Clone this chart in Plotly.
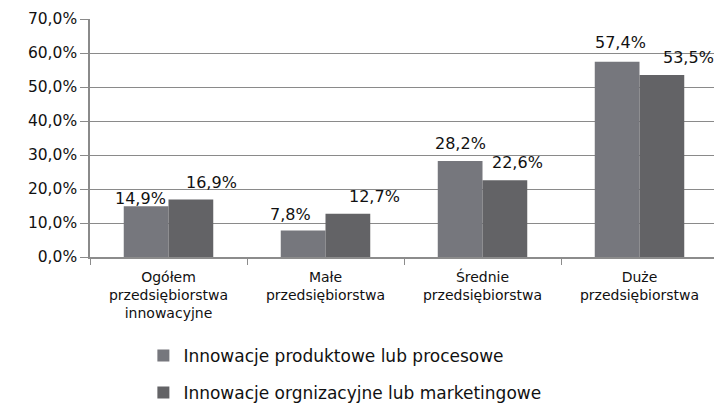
import plotly.graph_objects as go

categories = ["Ogółem<br>przedsiębiorstwa<br>innowacyjne", "Małe<br>przedsiębiorstwa",
              "Średnie<br>przedsiębiorstwa", "Duże<br>przedsiębiorstwa"]
series_names = ["Innowacje produktowe lub procesowe", "Innowacje orgnizacyjne lub marketingowe"]
produktowe = [14.9, 7.8, 28.2, 57.4]
organizacyjne = [16.9, 12.7, 22.6, 53.5]
y_ticks = [0, 10, 20, 30, 40, 50, 60, 70]

colors = ["#76777d", "#636366"]
font = "DejaVu Sans"


def pct(v):
    return f"{v:.1f}%".replace(".", ",")


fig = go.Figure()
for i, (name, vals, col) in enumerate(zip(series_names, [produktowe, organizacyjne], colors)):
    fig.add_trace(go.Bar(x=categories, y=vals, name=name, marker_color=col,
                         marker_line_width=0, legendgroup=f"g{i}"))

# data labels, nudged like in the original (hand-moved labels)
xs1, ys1 = [-6, -13, 0, 3], [-4, 4, 6, 8]
xs2, ys2 = [21, 27, 13, 27], [6, 6, 6, 6]
for vals, base, xs, ys in [(produktowe, -22, xs1, ys1), (organizacyjne, 22, xs2, ys2)]:
    for c, v, dx, dy in zip(categories, vals, xs, ys):
        fig.add_annotation(x=c, y=v, text=pct(v), showarrow=False,
                           yanchor="bottom", xshift=base + dx, yshift=dy,
                           font=dict(size=16, color="#111111", family=font))

# page body adds 8px margin, so the figure is 8px smaller each way
fig.update_layout(
    width=714, height=408,
    margin=dict(l=82, r=4, t=11, b=159, autoexpand=False),
    plot_bgcolor="white", paper_bgcolor="white",
    barmode="group", bargap=0.43, bargroupgap=0,
    font=dict(family=font, color="#111111"),
    legend=dict(orientation="v", x=0.085, y=-0.34, xanchor="left", yanchor="top",
                font=dict(size=17, family=font), tracegroupgap=12, itemwidth=30),
    xaxis=dict(showline=True, linecolor="#8c8c8c", linewidth=1.5, ticks="outside",
               tickson="boundaries", ticklen=6, tickcolor="#8c8c8c",
               ticklabelstandoff=6,
               tickfont=dict(size=14, family=font)),
    yaxis=dict(range=[0, 70], tickvals=y_ticks, ticktext=[pct(t) for t in y_ticks],
               showgrid=True, gridcolor="#8a8a8a", gridwidth=1.4,
               showline=True, linecolor="#8a8a8a", linewidth=1.5,
               ticks="outside", ticklen=8, tickcolor="#8a8a8a",
               tickfont=dict(size=15.5, family=font), zeroline=False),
)

fig.write_html("out.html")
